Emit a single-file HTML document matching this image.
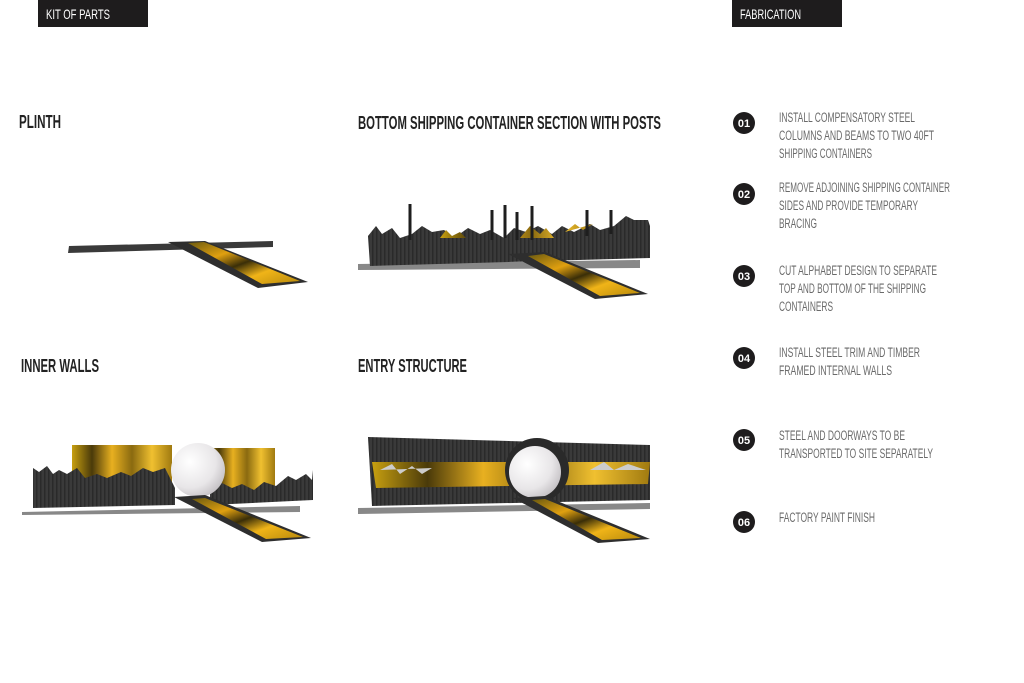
<!DOCTYPE html>
<html><head><meta charset="utf-8"><style>
body{margin:0;width:1024px;height:683px;background:#fff;overflow:hidden}
svg{display:block}
.t{font-family:"Liberation Sans Narrow","Liberation Sans",sans-serif;}
</style></head><body>
<svg width="1024" height="683" viewBox="0 0 1024 683" xmlns="http://www.w3.org/2000/svg">
<defs>
<linearGradient id="gold" x1="0" y1="0" x2="1" y2="1">
<stop offset="0" stop-color="#6b5a10"/><stop offset="0.3" stop-color="#e0a010"/><stop offset="0.5" stop-color="#3a2e08"/><stop offset="0.7" stop-color="#f0b418"/><stop offset="1" stop-color="#b88a0c"/></linearGradient>
<linearGradient id="gold2" x1="0" y1="0" x2="1" y2="0">
<stop offset="0" stop-color="#c8a010"/><stop offset="0.2" stop-color="#4a3a0a"/><stop offset="0.4" stop-color="#e8b020"/><stop offset="0.6" stop-color="#8a6a10"/><stop offset="0.8" stop-color="#f0c030"/><stop offset="1" stop-color="#a07a10"/></linearGradient>
<radialGradient id="ball" cx="0.35" cy="0.35" r="0.8"><stop offset="0" stop-color="#fff"/><stop offset="0.6" stop-color="#e8e6e8"/><stop offset="1" stop-color="#b8b4b8"/></radialGradient>
<pattern id="rib" width="4" height="10" patternUnits="userSpaceOnUse"><rect width="4" height="10" fill="#3a3a3a"/><rect width="1.5" height="10" fill="#2a2a2a"/></pattern>
</defs>

<rect x="38" y="0" width="110" height="27" fill="#1e1c1d"/>
<text x="46" y="19" class="t" font-size="14" fill="#fff" textLength="64" lengthAdjust="spacingAndGlyphs">KIT OF PARTS</text>
<rect x="732" y="0" width="110" height="27" fill="#1e1c1d"/>
<text x="740" y="19" class="t" font-size="14" fill="#fff" textLength="61" lengthAdjust="spacingAndGlyphs">FABRICATION</text>

<g class="t" font-size="18" font-weight="bold" fill="#222">
<text x="19" y="128" textLength="42" lengthAdjust="spacingAndGlyphs">PLINTH</text>
<text x="358" y="129" textLength="303" lengthAdjust="spacingAndGlyphs">BOTTOM SHIPPING CONTAINER SECTION WITH POSTS</text>
<text x="21" y="372" textLength="78" lengthAdjust="spacingAndGlyphs">INNER WALLS</text>
<text x="358" y="372" textLength="109" lengthAdjust="spacingAndGlyphs">ENTRY STRUCTURE</text>
</g>

<polygon points="69,246 273,241 273,247 68,253" fill="#3a3a3a"/>
<polygon points="168,242 205,241 308,282 258,288" fill="#2e2e2e"/>
<polygon points="188,243 204,242 300,281 262,284" fill="url(#gold)"/>

<polygon points="358,264 640,260 640,268 358,270" fill="#888"/>
<path d="M368,236 l8,-10 6,8 10,-6 8,10 12,-4 10,-8 10,6 12,-2 10,8 14,-10 12,6 10,-4 14,8 10,-10 12,4 12,-6 14,8 10,-8 12,6 16,-8 10,6 14,-4 12,-10 8,4 14,0 L650,226 L650,258 L370,266 Z" fill="url(#rib)"/>
<path d="M440,238 l6,-8 6,6 8,-4 6,6 z M520,238 l10,-12 10,8 6,-6 8,10z M565,232 l10,-8 8,6 10,-6z" fill="url(#gold2)"/>
<g stroke="#1e1e1e" stroke-width="3">
<line x1="410" y1="204" x2="410" y2="240"/><line x1="492" y1="210" x2="492" y2="240"/>
<line x1="505" y1="205" x2="505" y2="238"/><line x1="517" y1="212" x2="517" y2="240"/>
<line x1="532" y1="206" x2="532" y2="240"/><line x1="587" y1="210" x2="587" y2="236"/>
<line x1="611" y1="210" x2="611" y2="234"/></g>
<polygon points="508,254 545,252 648,294 595,299" fill="#2e2e2e"/>
<polygon points="528,256 544,254 640,293 600,296" fill="url(#gold)"/>

<polygon points="22,512 300,506 300,512 22,515" fill="#888"/>
<rect x="72" y="445" width="100" height="47" fill="url(#gold2)"/>
<rect x="205" y="448" width="70" height="42" fill="url(#gold2)"/>
<path d="M33,468 l6,4 8,-6 6,8 6,-4 8,4 10,-6 8,10 12,-4 10,4 14,-6 10,4 12,-8 10,4 12,-4 L175,488 L175,505 L33,508 Z" fill="url(#rib)"/>
<path d="M210,488 l10,-6 12,6 10,-4 12,6 10,-8 12,4 12,-10 8,4 10,-6 6,6 L313,470 L313,500 L210,505 Z" fill="url(#rib)"/>
<circle cx="198" cy="470" r="27" fill="url(#ball)"/>
<polygon points="174,497 205,495 311,538 262,542" fill="#2e2e2e"/>
<polygon points="192,499 205,498 303,537 266,539" fill="url(#gold)"/>

<polygon points="358,508 650,503 650,509 358,514" fill="#888"/>
<polygon points="368,437 650,445 650,500 372,506" fill="url(#rib)"/>
<polygon points="372,462 650,462 648,484 376,488" fill="url(#gold2)"/>
<path d="M380,470 l12,-6 8,10 12,-8 10,8 10,-6z M590,470 l14,-8 10,8 14,-6 18,6 z" fill="#ccc"/>
<circle cx="537" cy="470" r="32" fill="#2a2a2a"/>
<circle cx="535" cy="472" r="26" fill="url(#ball)"/>
<polygon points="513,498 545,496 650,539 598,543" fill="#2e2e2e"/>
<polygon points="532,500 545,499 641,538 602,540" fill="url(#gold)"/>

<g class="t" font-weight="bold" font-size="11" fill="#fff" text-anchor="middle">
<circle cx="744" cy="123" r="11" fill="#1e1c1d"/><text x="744" y="127">01</text>
<circle cx="744" cy="194" r="11" fill="#1e1c1d"/><text x="744" y="198">02</text>
<circle cx="744" cy="276" r="11" fill="#1e1c1d"/><text x="744" y="280">03</text>
<circle cx="744" cy="358" r="11" fill="#1e1c1d"/><text x="744" y="362">04</text>
<circle cx="744" cy="440" r="11" fill="#1e1c1d"/><text x="744" y="444">05</text>
<circle cx="744" cy="522" r="11" fill="#1e1c1d"/><text x="744" y="526">06</text>
</g>
<g class="t" font-size="13.5" fill="#6a6a6a">
<text x="779" y="122" textLength="136" lengthAdjust="spacingAndGlyphs">INSTALL COMPENSATORY STEEL</text>
<text x="779" y="140" textLength="155" lengthAdjust="spacingAndGlyphs">COLUMNS AND BEAMS TO TWO 40FT</text>
<text x="779" y="158" textLength="93" lengthAdjust="spacingAndGlyphs">SHIPPING CONTAINERS</text>
<text x="779" y="192" textLength="171" lengthAdjust="spacingAndGlyphs">REMOVE ADJOINING SHIPPING CONTAINER</text>
<text x="779" y="210" textLength="139" lengthAdjust="spacingAndGlyphs">SIDES AND PROVIDE TEMPORARY</text>
<text x="779" y="228" textLength="38" lengthAdjust="spacingAndGlyphs">BRACING</text>
<text x="779" y="275" textLength="158" lengthAdjust="spacingAndGlyphs">CUT ALPHABET DESIGN TO SEPARATE</text>
<text x="779" y="293" textLength="147" lengthAdjust="spacingAndGlyphs">TOP AND BOTTOM OF THE SHIPPING</text>
<text x="779" y="311" textLength="54" lengthAdjust="spacingAndGlyphs">CONTAINERS</text>
<text x="779" y="357" textLength="141" lengthAdjust="spacingAndGlyphs">INSTALL STEEL TRIM AND TIMBER</text>
<text x="779" y="375" textLength="113" lengthAdjust="spacingAndGlyphs">FRAMED INTERNAL WALLS</text>
<text x="779" y="440" textLength="126" lengthAdjust="spacingAndGlyphs">STEEL AND DOORWAYS TO BE</text>
<text x="779" y="458" textLength="154" lengthAdjust="spacingAndGlyphs">TRANSPORTED TO SITE SEPARATELY</text>
<text x="779" y="522" textLength="96" lengthAdjust="spacingAndGlyphs">FACTORY PAINT FINISH</text>
</g>
</svg>
</body></html>
